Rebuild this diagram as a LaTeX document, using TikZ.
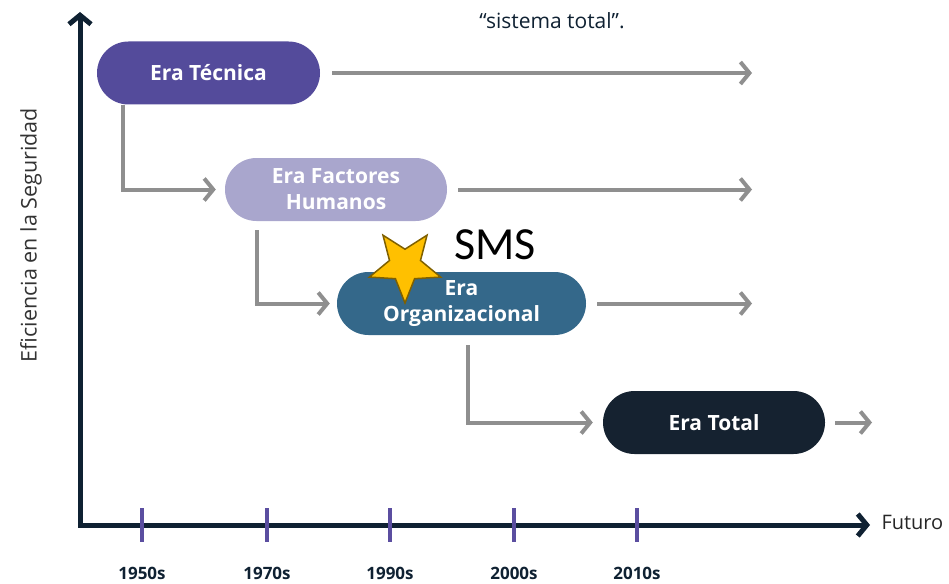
\documentclass[tikz,border=0pt]{standalone}
\usepackage{fontspec}
\setmainfont{Open Sans}
\newfontfamily\smsfont{Carlito}
\usetikzlibrary{arrows.meta,shapes.misc,shapes.geometric}
\definecolor{tecnica}{HTML}{544B9B}
\definecolor{factores}{HTML}{A9A6CD}
\definecolor{organiz}{HTML}{34688A}
\definecolor{total}{HTML}{152230}
\definecolor{flecha}{HTML}{8F8F8F}
\definecolor{eje}{HTML}{0F2132}
\definecolor{marca}{HTML}{5B4EA0}
\definecolor{estrella}{HTML}{FFC000}
\definecolor{borde}{HTML}{7F6000}
\begin{document}
\begin{tikzpicture}[x=1pt,y=-1pt,
      era/.style={rounded rectangle,minimum height=63pt,text=white,align=center,
        font=\fontsize{21}{26}\selectfont\bfseries,inner sep=0pt},
      flow/.style={draw=flecha,line width=4pt,-{Straight Barb[length=9pt,width=22pt]}},
      axis/.style={draw=eje,line width=5pt,line join=miter},
      tick/.style={draw=marca,line width=3.5pt},
      year/.style={font=\fontsize{17}{19}\selectfont\bfseries,text=eje,anchor=base,inner sep=0pt}]
  \useasboundingbox (0,0) rectangle (949,583);
  \node[era,fill=tecnica,minimum width=223pt] (tec) at (208.5,73) {Era Técnica};
  \node[era,fill=factores,minimum width=222pt] (fac) at (336,189.5) {Era Factores\\Humanos};
  \node[era,fill=organiz,minimum width=249pt] (org) at (461.5,303.5) {Era\\Organizacional};
  \node[era,fill=total,minimum width=222pt] (tot) at (714,422.5) {Era Total};
  \coordinate (tecend) at (752,73);
  \coordinate (facend) at (752,189.5);
  \coordinate (orgend) at (752,303.5);
  \coordinate (totend) at (872,422.5);
  \draw[flow] ([xshift=12pt]tec.east) -- (tecend);
  \draw[flow] ([xshift=11pt]fac.east) -- (facend);
  \draw[flow] ([xshift=11pt]org.east) -- (orgend);
  \draw[flow] ([xshift=10pt]tot.east) -- (totend);
  \draw[flow] ([xshift=-85.5pt]tec.south) |- ([xshift=-9pt]fac.west);
  \draw[flow] ([xshift=-79pt,yshift=-9pt]fac.south) |- ([xshift=-7pt]org.west);
  \draw[flow] ([xshift=6.5pt,yshift=-10pt]org.south) |- ([xshift=-10pt]tot.west);
  \node[star,star points=5,star point ratio=2.3,shape border rotate=180,
    minimum size=75pt,inner sep=0pt,fill=estrella,draw=borde,line width=1.5pt] (sello) at (405,265.5) {};
  \node[font=\smsfont\fontsize{46}{50}\selectfont] (sms) at (495,245) {SMS};
  \node[font=\fontsize{21}{24}\selectfont,text=eje] (cita) at (552,21) {“sistema total”.};
  \coordinate (origen) at (80,525);
  \coordinate (ytop) at (80,12);
  \coordinate (xend) at (870,525);
  \draw[axis,{Straight Barb[length=9pt,width=22pt]}-{Straight Barb[length=9pt,width=22pt]}] (ytop) -- (origen) -- (xend);
  \foreach \x/\yr in {142/1950s,267/1970s,390/1990s,514/2000s,637/2010s}{
    \draw[tick] (\x,508) -- (\x,542);
    \node[year] (y\yr) at (\x,579) {\yr};
  }
  \node[anchor=west,font=\fontsize{20}{23}\selectfont,text=black!85] (futuro) at (878,522) {Futuro};
  \node[rotate=90,font=\fontsize{21.5}{24}\selectfont,text=black!80] (eficiencia) at (31,235) {Eficiencia en la Seguridad};
\end{tikzpicture}
\end{document}
